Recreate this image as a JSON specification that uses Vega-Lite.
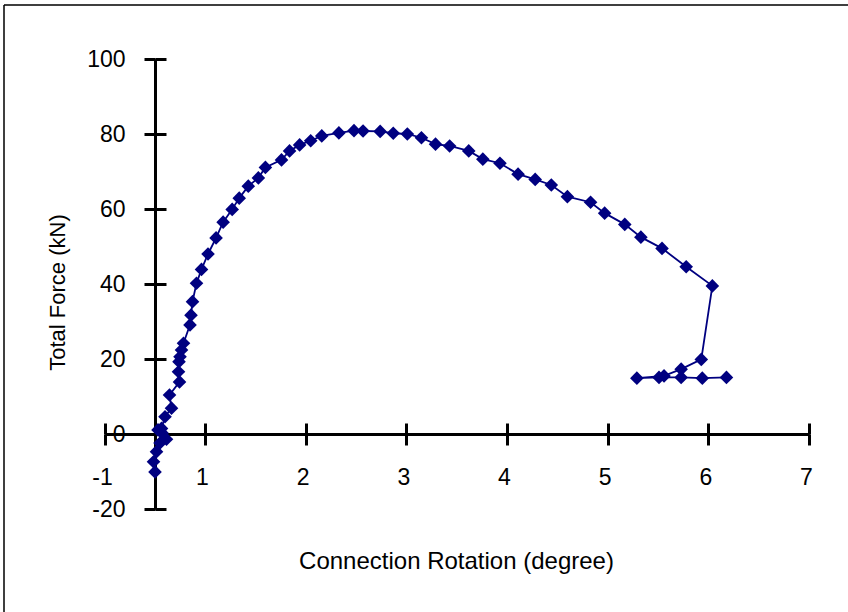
{
  "$schema": "https://vega.github.io/schema/vega-lite/v6.json",
  "width": 844,
  "height": 607,
  "autosize": {"type": "none"},
  "padding": {"left": 4, "top": 5, "right": 0, "bottom": 0},
  "background": "white",
  "config": {
    "view": {"stroke": "black", "strokeWidth": 1.5, "strokeDash": [844, 1451, 607, 0]},
    "font": "Liberation Sans"
  },
  "data": {
    "values": [
      {"i": 1, "rotation": 0.0, "force": -10.1},
      {"i": 2, "rotation": -0.03, "force": -7.4},
      {"i": 3, "rotation": 0.03, "force": -4.7},
      {"i": 4, "rotation": 0.10, "force": -2.4},
      {"i": 5, "rotation": 0.23, "force": -1.4},
      {"i": 6, "rotation": 0.14, "force": 0.3},
      {"i": 7, "rotation": 0.06, "force": 1.1},
      {"i": 8, "rotation": 0.13, "force": 1.5},
      {"i": 9, "rotation": 0.20, "force": 4.6},
      {"i": 10, "rotation": 0.33, "force": 6.9},
      {"i": 11, "rotation": 0.29, "force": 10.4},
      {"i": 12, "rotation": 0.49, "force": 13.9},
      {"i": 13, "rotation": 0.47, "force": 16.6},
      {"i": 14, "rotation": 0.48, "force": 19.3},
      {"i": 15, "rotation": 0.50, "force": 20.6},
      {"i": 16, "rotation": 0.53, "force": 22.4},
      {"i": 17, "rotation": 0.57, "force": 24.2},
      {"i": 18, "rotation": 0.70, "force": 29.1},
      {"i": 19, "rotation": 0.72, "force": 31.7},
      {"i": 20, "rotation": 0.75, "force": 35.3},
      {"i": 21, "rotation": 0.83, "force": 40.2},
      {"i": 22, "rotation": 0.93, "force": 43.9},
      {"i": 23, "rotation": 1.03, "force": 48.0},
      {"i": 24, "rotation": 1.11, "force": 52.3},
      {"i": 25, "rotation": 1.18, "force": 56.5},
      {"i": 26, "rotation": 1.27, "force": 59.9},
      {"i": 27, "rotation": 1.34, "force": 62.9},
      {"i": 28, "rotation": 1.43, "force": 66.1},
      {"i": 29, "rotation": 1.53, "force": 68.3},
      {"i": 30, "rotation": 1.60, "force": 71.1},
      {"i": 31, "rotation": 1.76, "force": 73.1},
      {"i": 32, "rotation": 1.84, "force": 75.5},
      {"i": 33, "rotation": 1.94, "force": 77.1},
      {"i": 34, "rotation": 2.05, "force": 78.2},
      {"i": 35, "rotation": 2.16, "force": 79.5},
      {"i": 36, "rotation": 2.33, "force": 80.3},
      {"i": 37, "rotation": 2.48, "force": 80.9},
      {"i": 38, "rotation": 2.57, "force": 80.8},
      {"i": 39, "rotation": 2.74, "force": 80.7},
      {"i": 40, "rotation": 2.87, "force": 80.2},
      {"i": 41, "rotation": 3.01, "force": 80.0},
      {"i": 42, "rotation": 3.15, "force": 79.0},
      {"i": 43, "rotation": 3.29, "force": 77.3},
      {"i": 44, "rotation": 3.43, "force": 76.8},
      {"i": 45, "rotation": 3.62, "force": 75.5},
      {"i": 46, "rotation": 3.76, "force": 73.3},
      {"i": 47, "rotation": 3.93, "force": 72.2},
      {"i": 48, "rotation": 4.11, "force": 69.3},
      {"i": 49, "rotation": 4.28, "force": 67.9},
      {"i": 50, "rotation": 4.44, "force": 66.4},
      {"i": 51, "rotation": 4.60, "force": 63.3},
      {"i": 52, "rotation": 4.83, "force": 61.8},
      {"i": 53, "rotation": 4.97, "force": 58.9},
      {"i": 54, "rotation": 5.17, "force": 55.9},
      {"i": 55, "rotation": 5.33, "force": 52.5},
      {"i": 56, "rotation": 5.54, "force": 49.5},
      {"i": 57, "rotation": 5.78, "force": 44.6},
      {"i": 58, "rotation": 6.04, "force": 39.5},
      {"i": 59, "rotation": 5.93, "force": 19.9},
      {"i": 60, "rotation": 5.73, "force": 17.3},
      {"i": 61, "rotation": 5.56, "force": 15.5},
      {"i": 62, "rotation": 5.29, "force": 14.9},
      {"i": 63, "rotation": 5.51, "force": 15.1},
      {"i": 64, "rotation": 5.73, "force": 15.1},
      {"i": 65, "rotation": 5.94, "force": 14.9},
      {"i": 66, "rotation": 6.18, "force": 15.1}
    ]
  },
  "layer": [
    {
      "mark": {"type": "line", "color": "#000080", "strokeWidth": 1.8},
      "encoding": {
        "x": {
          "field": "rotation", "type": "quantitative",
          "scale": {"domain": [-1, 1, 7], "range": [101, 201, 805], "nice": false, "zero": false},
          "axis": {
            "orient": "bottom", "offset": -178, "values": [-1, 1, 2, 3, 4, 5, 6, 7],
            "grid": false, "domainColor": "black", "domainWidth": 3,
            "tickColor": "black", "tickWidth": 3, "tickSize": 11,
            "labelFontSize": 23, "labelColor": "black", "labelPadding": 21, "labelOffset": -3,
            "labelFlush": false, "labelOverlap": false, "labelExpr": "'' + datum.value",
            "title": "Connection Rotation (degree)", "titleFontSize": 24, "titleFontWeight": "normal",
            "titleColor": "black", "titleX": 452, "titleY": 127, "titleAlign": "center", "titleBaseline": "middle"
          }
        },
        "y": {
          "field": "force", "type": "quantitative",
          "scale": {"domain": [-20, 100], "range": [504, 54], "nice": false, "zero": false},
          "axis": {
            "orient": "left", "offset": -151, "values": [-20, 0, 20, 40, 60, 80, 100],
            "grid": false, "domainColor": "black", "domainWidth": 3,
            "tickColor": "black", "tickWidth": 3, "tickSize": 11,
            "labelFontSize": 23, "labelColor": "black", "labelPadding": 19,
            "labelFlush": false, "labelOverlap": false, "labelExpr": "'' + datum.value",
            "title": "Total Force (kN)", "titleFont": "Liberation Sans", "titleFontSize": 22, "titleFontWeight": "normal",
            "titleColor": "black", "titleAngle": 270, "titleX": -98, "titleY": 287, "titleAlign": "center", "titleBaseline": "middle"
          }
        },
        "order": {"field": "i", "type": "quantitative"}
      }
    },
    {
      "mark": {"type": "point", "shape": "diamond", "filled": true, "size": 185, "color": "#000080", "opacity": 1},
      "encoding": {
        "x": {
          "field": "rotation", "type": "quantitative",
          "scale": {"domain": [-1, 1, 7], "range": [101, 201, 805], "nice": false, "zero": false},
          "axis": {
            "orient": "top", "offset": -429, "values": [-1, 1, 2, 3, 4, 5, 6, 7],
            "grid": false, "domainColor": "black", "domainWidth": 3,
            "tickColor": "black", "tickWidth": 3, "tickSize": 11, "labels": false, "title": null
          }
        },
        "y": {
          "field": "force", "type": "quantitative",
          "scale": {"domain": [-20, 100], "range": [504, 54], "nice": false, "zero": false},
          "axis": {
            "orient": "right", "offset": -693, "values": [-20, 0, 20, 40, 60, 80, 100],
            "grid": false, "domainColor": "black", "domainWidth": 3,
            "tickColor": "black", "tickWidth": 3, "tickSize": 11, "labels": false, "title": null
          }
        }
      }
    }
  ],
  "resolve": {"axis": {"x": "independent", "y": "independent"}}
}
